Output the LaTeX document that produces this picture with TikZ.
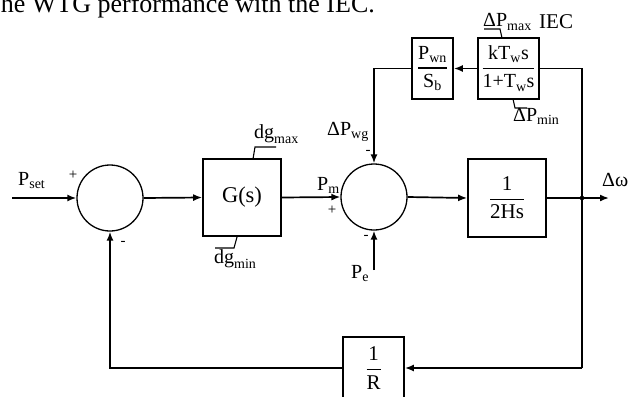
\documentclass[tikz,border=0pt]{standalone}
\usepackage{amsmath}
\usepackage{fontspec}
\setmainfont{Liberation Serif}
\usetikzlibrary{arrows.meta}
\newcommand{\lbl}[2]{\ensuremath{\text{#1}_{\text{#2}}}}
\newcommand{\myfr}[2]{\ensuremath{\genfrac{}{}{1.4pt}{0}{\text{#1}}{\text{#2}}}}
\begin{document}
\begin{tikzpicture}[x=1pt,y=-1pt,
  blk/.style={draw, line width=1.7pt, rectangle, inner sep=0pt},
  sumc/.style={draw, circle, line width=1.3pt, minimum size=66pt, inner sep=0pt},
  conn/.style={line width=1.7pt},
  arr/.style={conn, -{Latex[length=9pt,width=7pt]}},
  lim/.style={line width=1.1pt},
  lab/.style={font=\fontsize{20}{24}\selectfont, inner sep=0pt},
  sgn/.style={font=\fontsize{15}{18}\selectfont, inner sep=0pt}]
\useasboundingbox (0,0) rectangle (628,396);
\clip (0,0) rectangle (628,396);
% caption fragment
\node[anchor=base east, inner sep=0pt, font=\fontsize{26}{30}\selectfont] (cap) at (375,13) {he WTG performance with the IEC.};
% blocks
\node[sumc] (s1) at (110,198) {};
\node[blk, minimum width=78pt, minimum height=77pt, font=\fontsize{22.5}{26}\selectfont] (G) at (242,197.5) {G(s)};
\node[sumc] (s2) at (374,197) {};
\node[blk, minimum width=78pt, minimum height=78pt, font=\fontsize{21}{25}\selectfont] (H) at (507,198) {\myfr{1}{2Hs}};
\node[blk, minimum width=41pt, minimum height=61pt, font=\fontsize{20}{24}\selectfont] (Pwn) at (432.5,68.5) {\myfr{P$_\text{wn}$}{S$_\text{b}$}};
\node[blk, minimum width=61pt, minimum height=61pt, font=\fontsize{20}{24}\selectfont] (IEC) at (508.5,68.5) {\myfr{kT$_\text{w}$s}{1+T$_\text{w}$s}};
\node[blk, minimum width=61pt, minimum height=62pt, font=\fontsize{21}{25}\selectfont] (R) at (373.5,368) {\myfr{1}{R}};
% coordinates
\coordinate (in) at (12,198);
\coordinate (dot) at (582,198);
\coordinate (out) at (609,198);
\coordinate (tr) at (582,68.5);
\coordinate (br) at (582,368);
\coordinate (bl) at (110,368);
\coordinate (tl) at (374,68.5);
\coordinate (pe) at (374,270);
% connectors
\draw[arr] (in) -- (s1.west);
\draw[arr] (s1.east) -- (G.west);
\draw[arr] (G.east) -- (s2.west);
\draw[arr] (s2.east) -- (H.west);
\draw[conn] (H.east) -- (dot);
\draw[arr] (dot) -- (out);
\fill (dot) circle (2.3pt);
\draw[conn] (IEC.east) -- (tr) -- (br);
\draw[arr] (br) -- (R.east);
\draw[arr] (R.west) -- (bl) -- (s1.south);
\draw[arr] (IEC.west) -- (Pwn.east);
\draw[arr] (Pwn.west) -- (tl) -- (s2.north);
\draw[arr] (pe) -- (s2.south);
% limiter marks
\draw[lim] (253,159) -- (255,147) -- (276,147);
\draw[lim] (237,237) -- (234,248) -- (215,248);
\draw[lim] (502,38) -- (500,29) -- (484,29);
\draw[lim] (513,99) -- (515,108) -- (527,108);
% labels
\node[lab, anchor=base west] (lset) at (18,185) {\lbl{P}{set}};
\node[sgn] (p1) at (73,175) {+};
\node[sgn] (m1) at (123,243) {-};
\node[lab, anchor=base west] (ldgmax) at (254,138) {\lbl{dg}{max}};
\node[lab, anchor=base west] (ldgmin) at (214,263) {\lbl{dg}{min}};
\node[lab, anchor=base west] (lpm) at (317,190) {\lbl{P}{m}};
\node[sgn] (p2) at (332,210) {+};
\node[lab, anchor=base west] (lwg) at (327,135) {\lbl{ΔP}{wg}};
\node[sgn] (m2) at (368,152) {-};
\node[lab, anchor=base west] (lpe) at (351,278) {\lbl{P}{e}};
\node[sgn] (m3) at (366,237) {-};
\node[lab, anchor=base west] (lw) at (602,186) {Δω};
\node[lab, anchor=base west] (lmax) at (483,27) {\lbl{ΔP}{max}};
\node[lab, anchor=base west, font=\fontsize{21}{25}\selectfont] (liec) at (539,29) {IEC};
\node[lab, anchor=base west] (lmin) at (513,121) {\lbl{ΔP}{min}};
\end{tikzpicture}
\end{document}
